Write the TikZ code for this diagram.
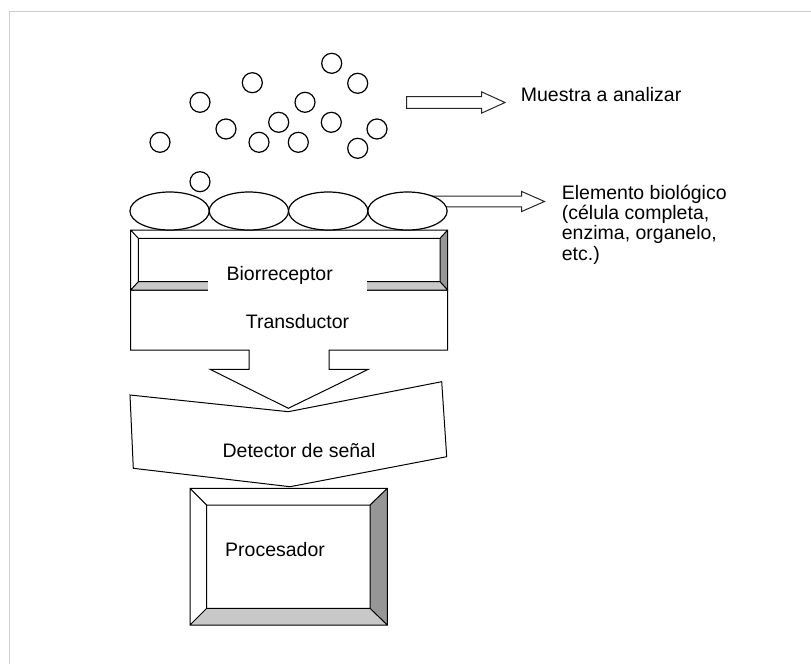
\documentclass[tikz,border=0pt]{standalone}
\usepackage{fontspec}
\setmainfont{Liberation Sans}
\usetikzlibrary{shapes.geometric,calc,backgrounds}
\definecolor{framegray}{RGB}{205,205,205}
\definecolor{bevdark}{RGB}{150,150,150}
\definecolor{bevlight}{RGB}{200,200,200}
\newcommand\mybevel[8]{%
  \fill[white] (#1,#2) -- (#3,#2) -- (#7,#6) -- (#5,#6) -- cycle;
  \fill[white] (#1,#2) -- (#5,#6) -- (#5,#8) -- (#1,#4) -- cycle;
  \fill[bevdark] (#3,#2) -- (#3,#4) -- (#7,#8) -- (#7,#6) -- cycle;
  \fill[bevlight] (#1,#4) -- (#3,#4) -- (#7,#8) -- (#5,#8) -- cycle;
  \draw[shapeline] (#1,#2) rectangle (#3,#4) (#5,#6) rectangle (#7,#8)
    (#1,#2) -- (#5,#6) (#3,#2) -- (#7,#6) (#1,#4) -- (#5,#8) (#3,#4) -- (#7,#8);
}
\begin{document}
\begin{tikzpicture}[x=1pt,y=-1pt,
  ball/.style={circle, draw, fill=white, line width=1.2pt, minimum size=20pt, inner sep=0pt},
  cell/.style={ellipse, draw, fill=white, line width=1.2pt, minimum width=79.3pt, minimum height=38pt, inner sep=0pt},
  shapeline/.style={draw=black, line width=1pt},
  lbl/.style={font=\fontsize{19.5}{20.3}\selectfont, inner sep=0pt},
  blockarrow/.style={draw=black!85, line width=1pt, fill=white}]
\useasboundingbox (0,0) rectangle (811,664);
% frame
\draw[framegray, line width=1.5pt] (9.5,664) -- (9.5,11.5) -- (811,11.5);

% transductor with arrow
\draw[shapeline, fill=white] (130.7,290) -- (447.7,290) -- (447.7,350) -- (329,350) -- (329,369.3)
  -- (368.3,369.3) -- (288.3,408.3) -- (210,369.3) -- (249,369.3) -- (249,350) -- (130.7,350) -- cycle;
\node[lbl, anchor=base] (trans) at (297.5,328.3) {Transductor};

% biorreceptor
\mybevel{130.7}{230}{447.7}{290}{138.3}{238.3}{440}{281.7}
\fill[white] (208.3,262) rectangle (366.7,291);
\node[lbl, anchor=base] (bio) at (279.7,280) {Biorreceptor};

% detector
\draw[shapeline, fill=white] (130,395) -- (288.3,411.7) -- (441.7,381.7) -- (446.7,456.7)
  -- (290,486.7) -- (133.3,468.3) -- cycle;
\node[lbl, anchor=base] (det) at (299,457.3) {Detector de señal};

% procesador
\mybevel{190}{488.3}{387.3}{625}{206.7}{505}{370}{608.3}
\node[lbl, anchor=base west] (proc) at (225,556) {Procesador};

% biological elements
\node[cell] (e1) at (169.6,211) {};
\node[cell] (e2) at (248.9,211) {};
\node[cell] (e3) at (328.2,211) {};
\node[cell] (e4) at (407.5,211) {};

% sample molecules
\node[ball] (c1) at (331.7,63.3) {};
\node[ball] (c2) at (357.7,83.3) {};
\node[ball] (c3) at (252.3,82.7) {};
\node[ball] (c4) at (200,102.3) {};
\node[ball] (c5) at (305,102.3) {};
\node[ball] (c6) at (226,129) {};
\node[ball] (c7) at (278.7,122.3) {};
\node[ball] (c8) at (331.3,122.3) {};
\node[ball] (c9) at (377,129) {};
\node[ball] (c10) at (160,142.3) {};
\node[ball] (c11) at (259,142.3) {};
\node[ball] (c12) at (298.3,142.3) {};
\node[ball] (c13) at (357.7,148.3) {};
\node[ball] (c14) at (200,181.7) {};

% labels
\node[lbl, anchor=base west] (muestra) at (520.7,101.7) {Muestra a analizar};
\node[lbl, anchor=base west] (el1) at (561.7,199.3) {Elemento biológico};
\node[lbl, anchor=base west] (el2) at (561.7,219.6) {(célula completa,};
\node[lbl, anchor=base west] (el3) at (561.7,239.9) {enzima, organelo,};
\node[lbl, anchor=base west] (el4) at (561.7,260.2) {etc.)};

% block arrows
\coordinate (m0) at (406.7,102.5);
\draw[blockarrow] ($(m0)+(0,-5.8)$) -- ($(m0)+(75,-5.8)$) -- ($(m0)+(75,-10.6)$) -- ($(m0)+(98.3,0)$)
  -- ($(m0)+(75,10.6)$) -- ($(m0)+(75,5.8)$) -- ($(m0)+(0,5.8)$) -- cycle;
\begin{scope}[on background layer]
\coordinate (a2) at ($(e4.center)+(22,-9.5)$);
\draw[blockarrow] ($(a2)+(0,-5.3)$) -- ($(a2)+(92.2,-5.3)$) -- ($(a2)+(92.2,-10)$) -- ($(a2)+(115,0)$)
  -- ($(a2)+(92.2,10)$) -- ($(a2)+(92.2,5.3)$) -- ($(a2)+(0,5.3)$) -- cycle;
\end{scope}
\end{tikzpicture}
\end{document}
